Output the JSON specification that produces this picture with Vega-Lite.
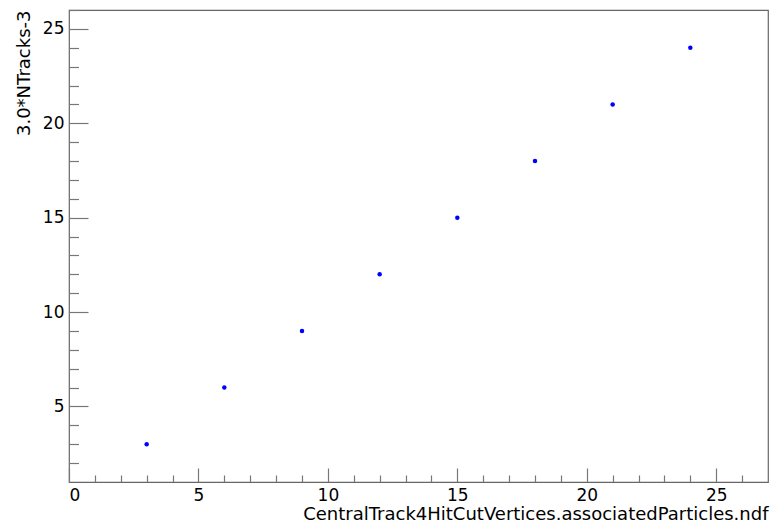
{
  "$schema": "https://vega.github.io/schema/vega-lite/v6.json",
  "autosize": {"type": "none"},
  "width": 699,
  "height": 472,
  "padding": {"left": 69, "top": 10, "right": 3, "bottom": 44},
  "background": "white",
  "config": {
    "view": {"stroke": "#666666", "strokeWidth": 1.2},
    "axis": {"grid": false, "domain": false, "labelFont": "DejaVu Sans", "titleFont": "DejaVu Sans", "labelFontSize": 17, "titleFontSize": 18, "titleFontWeight": "normal", "labelColor": "black", "titleColor": "black", "tickColor": "#777777", "tickWidth": 1.2}
  },
  "data": {"values": [
    {"x": 3, "y": 3}, {"x": 6, "y": 6}, {"x": 9, "y": 9}, {"x": 12, "y": 12},
    {"x": 15, "y": 15}, {"x": 18, "y": 18}, {"x": 21, "y": 21}, {"x": 24, "y": 24}
  ]},
  "resolve": {"axis": {"x": "independent", "y": "independent"}},
  "layer": [
    {
      "mark": {"type": "point", "filled": true, "color": "#0000ff", "size": 20, "opacity": 1},
      "encoding": {
        "x": {"field": "x", "type": "quantitative", "scale": {"domain": [0, 27], "nice": false, "zero": false},
          "axis": {"orient": "bottom", "values": [0, 5, 10, 15, 20, 25], "ticks": false, "labelPadding": 5, "title": "CentralTrack4HitCutVertices.associatedParticles.ndf", "titleAnchor": "end", "titlePadding": 2}},
        "y": {"field": "y", "type": "quantitative", "scale": {"domain": [1, 26], "nice": false, "zero": false},
          "axis": {"orient": "left", "values": [5, 10, 15, 20, 25], "ticks": false, "labelPadding": 5, "title": "3.0*NTracks-3", "titleAnchor": "end", "titlePadding": 9}}
      }
    },
    {
      "mark": {"type": "point", "opacity": 0},
      "encoding": {
        "x": {"field": "x", "type": "quantitative", "scale": {"domain": [0, 27], "nice": false, "zero": false},
          "axis": {"orient": "bottom", "values": [0, 5, 10, 15, 20, 25], "tickSize": -14, "labels": false, "title": null}},
        "y": {"field": "y", "type": "quantitative", "scale": {"domain": [1, 26], "nice": false, "zero": false},
          "axis": {"orient": "left", "values": [5, 10, 15, 20, 25], "tickSize": -19, "labels": false, "title": null}}
      }
    },
    {
      "mark": {"type": "point", "opacity": 0},
      "encoding": {
        "x": {"field": "x", "type": "quantitative", "scale": {"domain": [0, 27], "nice": false, "zero": false},
          "axis": {"orient": "bottom", "values": [1,2,3,4,6,7,8,9,11,12,13,14,16,17,18,19,21,22,23,24,26], "tickSize": -7, "labels": false, "title": null}},
        "y": {"field": "y", "type": "quantitative", "scale": {"domain": [1, 26], "nice": false, "zero": false},
          "axis": {"orient": "left", "values": [2,3,4,6,7,8,9,11,12,13,14,16,17,18,19,21,22,23,24,26], "tickSize": -9.5, "labels": false, "title": null}}
      }
    }
  ]
}
